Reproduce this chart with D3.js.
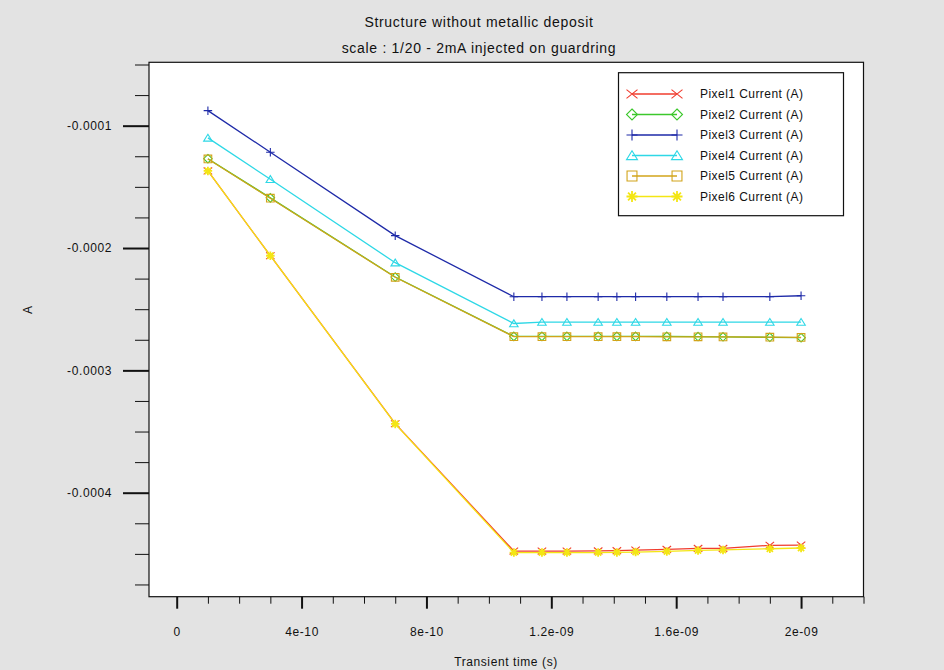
<!DOCTYPE html>
<html>
<head>
<meta charset="utf-8">
<script src="https://cdn.jsdelivr.net/npm/d3@7/dist/d3.min.js"></script>
<style>
  html, body { margin: 0; padding: 0; background: #e3e3e3; }
  svg { display: block; }
  text { font-family: "Liberation Sans", Arial, Helvetica, sans-serif; fill: #111; }
</style>
</head>
<body>
<script>
// ---------- data ----------
const title1 = "Structure without metallic deposit";
const title2 = "scale : 1/20 - 2mA injected on guardring";
const xTitle = "Transient time (s)";
const yTitle = "A";

const times = [1e-10, 3e-10, 7e-10, 1.08e-9, 1.17e-9, 1.25e-9, 1.35e-9, 1.41e-9, 1.47e-9, 1.57e-9, 1.67e-9, 1.75e-9, 1.9e-9, 2e-9];

const seriesNames = ["Pixel1 Current (A)", "Pixel2 Current (A)", "Pixel3 Current (A)", "Pixel4 Current (A)", "Pixel5 Current (A)", "Pixel6 Current (A)"];
const seriesColors = ["#f03c2e", "#3cc82c", "#1e2aa8", "#2ed8e6", "#d2a41a", "#f4e614"];
const seriesMarkers = ["x", "diamond", "plus", "triangle", "square", "star"];

const pixel1 = [-0.0001370, -0.0002063, -0.0003436, -0.0004477, -0.0004477, -0.0004477, -0.0004476, -0.0004474, -0.0004469, -0.0004463, -0.0004455, -0.0004455, -0.0004430, -0.0004428];
const pixel2 = [-0.0001270, -0.0001590, -0.0002237, -0.0002722, -0.0002722, -0.0002722, -0.0002722, -0.0002722, -0.0002722, -0.0002722, -0.0002724, -0.0002726, -0.0002730, -0.0002733];
const pixel3 = [-0.0000877, -0.0001217, -0.0001899, -0.0002398, -0.0002398, -0.0002398, -0.0002398, -0.0002398, -0.0002398, -0.0002398, -0.0002398, -0.0002398, -0.0002398, -0.0002390];
const pixel4 = [-0.0001100, -0.0001438, -0.0002120, -0.0002617, -0.0002605, -0.0002605, -0.0002605, -0.0002605, -0.0002605, -0.0002605, -0.0002605, -0.0002605, -0.0002605, -0.0002605];
const pixel5 = [-0.0001272, -0.0001593, -0.0002239, -0.0002725, -0.0002725, -0.0002725, -0.0002725, -0.0002725, -0.0002725, -0.0002726, -0.0002726, -0.0002727, -0.0002729, -0.0002731];
const pixel6 = [-0.0001370, -0.0002063, -0.0003438, -0.0004489, -0.0004489, -0.0004489, -0.0004489, -0.0004488, -0.0004485, -0.0004480, -0.0004472, -0.0004468, -0.0004458, -0.0004452];
const seriesValues = [pixel1, pixel2, pixel3, pixel4, pixel5, pixel6];

const xMajorTicks = [0, 4e-10, 8e-10, 1.2e-9, 1.6e-9, 2e-9];
const xTickLabels = ["0", "4e-10", "8e-10", "1.2e-09", "1.6e-09", "2e-09"];
const yMajorTicks = [-0.0001, -0.0002, -0.0003, -0.0004];
const yTickLabels = ["-0.0001", "-0.0002", "-0.0003", "-0.0004"];

// ---------- layout ----------
const W = 944, H = 670;
const plot = { left: 149, right: 863.5, top: 62.3, bottom: 596.7 };

const svg = d3.select("body").append("svg").attr("width", W).attr("height", H);
svg.append("rect").attr("width", W).attr("height", H).attr("fill", "#e3e3e3");

const x = d3.scaleLinear().domain([-8.87e-11, 2.2e-9]).range([plot.left, plot.right]);
const y = d3.scaleLinear().domain([-0.000485, -0.0000482]).range([plot.bottom, plot.top]);

// plot background
svg.append("rect")
  .attr("x", plot.left).attr("y", plot.top)
  .attr("width", plot.right - plot.left).attr("height", plot.bottom - plot.top)
  .attr("fill", "#ffffff");

// ---------- axes ----------
const xMinor = d3.range(0, 23).map(i => i * 1e-10).filter(v => !xMajorTicks.some(m => Math.abs(m - v) < 1e-13));
const yMinor = d3.range(2, 20).map(i => -i * 2.5e-5).filter(v => !yMajorTicks.some(m => Math.abs(m - v) < 1e-9));

const gxMinor = svg.append("g").attr("transform", `translate(0,${plot.bottom})`)
  .call(d3.axisBottom(x).tickValues(xMinor).tickSize(7).tickFormat(""));
gxMinor.select(".domain").remove();
gxMinor.selectAll("line").attr("stroke", "#111").attr("stroke-width", 1);

const gx = svg.append("g").attr("transform", `translate(0,${plot.bottom})`)
  .call(d3.axisBottom(x).tickValues(xMajorTicks).tickSize(12).tickPadding(19)
    .tickFormat((d, i) => xTickLabels[i]));
gx.select(".domain").remove();
gx.selectAll("line").attr("stroke", "#111").attr("stroke-width", 2);
gx.selectAll("text").attr("font-size", 12).attr("letter-spacing", 0.6)
  .style("font-family", '"Liberation Sans", Arial, sans-serif').attr("fill", "#111");

const gyMinor = svg.append("g").attr("transform", `translate(${plot.left},0)`)
  .call(d3.axisLeft(y).tickValues(yMinor).tickSize(14).tickFormat(""));
gyMinor.select(".domain").remove();
gyMinor.selectAll("line").attr("stroke", "#111").attr("stroke-width", 1);

const gy = svg.append("g").attr("transform", `translate(${plot.left},0)`)
  .call(d3.axisLeft(y).tickValues(yMajorTicks).tickSize(26).tickPadding(11)
    .tickFormat((d, i) => yTickLabels[i]));
gy.select(".domain").remove();
gy.selectAll("line").attr("stroke", "#111").attr("stroke-width", 2);
gy.selectAll("text").attr("font-size", 12).attr("letter-spacing", 0.6)
  .style("font-family", '"Liberation Sans", Arial, sans-serif').attr("fill", "#111");

// ---------- markers ----------
function markerPath(type, s) {
  const h = s / 2;
  switch (type) {
    case "x": return `M${-h},${-h * 0.8}L${h},${h * 0.8}M${-h},${h * 0.8}L${h},${-h * 0.8}`;
    case "diamond": return `M0,${-h}L${h},0L0,${h}L${-h},0Z`;
    case "plus": return `M${-h},0L${h},0M0,${-h}L0,${h}`;
    case "triangle": return `M0,${-h * 0.85}L${h},${h * 0.75}L${-h},${h * 0.75}Z`;
    case "square": return `M${-h * 0.9},${-h * 0.9}L${h * 0.9},${-h * 0.9}L${h * 0.9},${h * 0.9}L${-h * 0.9},${h * 0.9}Z`;
    case "star": {
      const a = h * 0.72;
      return `M${-h},0L${h},0M0,${-h}L0,${h}M${-a},${-a}L${a},${a}M${-a},${a}L${a},${-a}`;
    }
  }
}
function drawMarker(g, type, color, cx, cy, s) {
  g.append("path")
    .attr("d", markerPath(type, s))
    .attr("transform", `translate(${cx},${cy})`)
    .attr("fill", "none")
    .attr("stroke", color)
    .attr("stroke-width", type === "star" ? 1.8 : 1.1);
}

// ---------- series ----------
const line = d3.line().x(d => x(d[0])).y(d => y(d[1]));
const seriesG = svg.append("g");
seriesValues.forEach((vals, si) => {
  const pts = times.map((t, i) => [t, vals[i]]);
  const g = seriesG.append("g");
  g.append("path").datum(pts)
    .attr("d", line)
    .attr("fill", "none")
    .attr("stroke", seriesColors[si])
    .attr("stroke-width", 1.3);
  pts.forEach(p => drawMarker(g, seriesMarkers[si], seriesColors[si], x(p[0]), y(p[1]), 8.5));
});

// frame
svg.append("rect")
  .attr("x", plot.left).attr("y", plot.top)
  .attr("width", plot.right - plot.left).attr("height", plot.bottom - plot.top)
  .attr("fill", "none").attr("stroke", "#111").attr("stroke-width", 1.2);

// ---------- legend ----------
const lg = svg.append("g");
lg.append("rect")
  .attr("x", 618.5).attr("y", 72.7).attr("width", 225).attr("height", 143)
  .attr("fill", "#ffffff").attr("stroke", "#111").attr("stroke-width", 1.2);
seriesNames.forEach((name, i) => {
  const ry = 94 + i * 20.5;
  lg.append("line").attr("x1", 632).attr("x2", 677).attr("y1", ry).attr("y2", ry)
    .attr("stroke", seriesColors[i]).attr("stroke-width", 1.3);
  drawMarker(lg, seriesMarkers[i], seriesColors[i], 632, ry, 11);
  drawMarker(lg, seriesMarkers[i], seriesColors[i], 677, ry, 11);
  lg.append("text").attr("x", 700).attr("y", ry + 4.3)
    .attr("font-size", 12).attr("letter-spacing", 0.45).text(name);
});

// ---------- titles ----------
svg.append("text").attr("x", 479).attr("y", 27).attr("text-anchor", "middle")
  .attr("font-size", 14).attr("letter-spacing", 0.7).text(title1);
svg.append("text").attr("x", 479).attr("y", 52.5).attr("text-anchor", "middle")
  .attr("font-size", 14).attr("letter-spacing", 0.7).text(title2);
svg.append("text").attr("x", 506).attr("y", 666).attr("text-anchor", "middle")
  .attr("font-size", 12).attr("letter-spacing", 0.6).text(xTitle);
svg.append("text").attr("transform", "translate(32,310) rotate(-90)").attr("text-anchor", "middle")
  .attr("font-size", 12).text(yTitle);
</script>
</body>
</html>
